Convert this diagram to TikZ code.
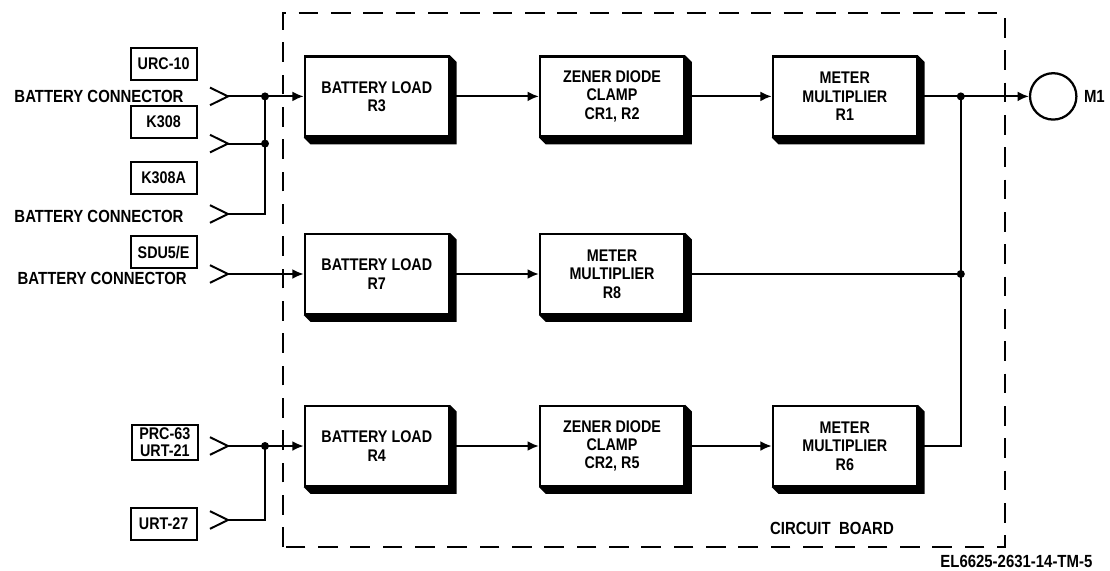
\documentclass[tikz,border=0pt]{standalone}
\usepackage{fontspec}
\setmainfont{Liberation Sans}[FakeStretch=0.85]
\usetikzlibrary{arrows.meta,positioning,calc}

\begin{document}
\begin{tikzpicture}[
  line width=1.4pt,
  font=\bfseries\fontsize{12}{13}\selectfont,
  block/.style={draw,line width=1.6pt,fill=white,minimum width=3.6cm,minimum height=2cm,align=center},
  tag/.style={draw,line width=1.5pt,minimum width=1.65cm,minimum height=0.8cm,align=center,inner sep=2pt,font=\bfseries\fontsize{12}{12}\selectfont},
  lbl/.style={font=\bfseries\fontsize{12.5}{12.5}\selectfont},
  feed/.style={-{Latex[length=8pt,width=7pt]}},
  board/.style={line width=1.6pt,dash pattern=on 14pt off 9pt}
]
\useasboundingbox (0,0) rectangle (27.75,14.25);

% circuit board outline
\draw[board] (7.075,0.575) rectangle (25.125,13.925);
\node[lbl] (cb) at (20.8,1.05) {CIRCUIT\ \ BOARD};
\node[lbl,anchor=east] (fig) at (27.45,0.22) {EL6625-2631-14-TM-5};

% blocks
\node[block] (bl3) at (9.42,11.84) {BATTERY LOAD\\R3};
\node[block] (zd1) at (15.3,11.84) {ZENER DIODE\\CLAMP\\CR1, R2};
\node[block] (mm1) at (21.12,11.84) {METER\\MULTIPLIER\\R1};
\node[block] (bl7) at (9.42,7.4) {BATTERY LOAD\\R7};
\node[block] (mm8) at (15.3,7.4) {METER\\MULTIPLIER\\R8};
\node[block] (bl4) at (9.42,3.1) {BATTERY LOAD\\R4};
\node[block] (zd2) at (15.3,3.1) {ZENER DIODE\\CLAMP\\CR2, R5};
\node[block] (mm6) at (21.12,3.1) {METER\\MULTIPLIER\\R6};
\foreach \b in {bl3,zd1,mm1,bl7,mm8,bl4,zd2,mm6}
  \fill (\b.north east) -- ++(0.17,-0.17) -- ($(\b.south east)+(0.17,-0.17)$) -- ($(\b.south west)+(0.17,-0.17)$) -- (\b.south west) -- (\b.south east) -- cycle;

% meter
\node[draw,circle,line width=1.6pt,minimum size=1.16cm] (m1) at (26.33,11.84) {};
\node[lbl,right=0.02cm of m1] (m1lbl) {M1};

% equipment tags
\node[tag] (urc) at (4.09,12.66) {URC-10};
\node[tag] (k308) at (4.09,11.21) {K308};
\node[tag] (k308a) at (4.09,9.81) {K308A};
\node[tag] (sdu) at (4.09,7.94) {SDU5/E};
\node[tag] (prc) at (4.12,3.19) {PRC-63\\URT-21};
\node[tag] (urt27) at (4.09,1.15) {URT-27};
\node[lbl,anchor=west] (bc1) at (0.22,11.85) {BATTERY CONNECTOR};
\node[lbl,anchor=west] (bc3) at (0.22,8.83) {BATTERY CONNECTOR};
\node[lbl,anchor=west] (bc4) at (0.3,7.3) {BATTERY CONNECTOR};

% input connectors
\foreach \c/\y in {c1/11.84,c2/10.66,c3/8.9,c4/7.4,c5/3.1,c6/1.25}
  \coordinate (\c) at (5.7,\y);
\foreach \c in {c1,c2,c3,c4,c5,c6}
  \draw ($(\c)+(-0.45,0.22)$) -- (\c) -- ++(-0.45,-0.22);

\coordinate (jl1) at (6.625,11.84);
\coordinate (jl2) at (6.625,10.66);
\coordinate (jl5) at (6.625,3.1);
\coordinate (jr1) at (24.02,11.84);
\coordinate (jr2) at (24.02,7.4);
\coordinate (jr3) at (24.02,3.1);

\draw (c1) -- (jl1);
\draw (c2) -- (jl2);
\draw (c3) -| (jl1);
\draw[feed] (jl1) -- (bl3);
\draw[feed] (c4) -- (bl7);
\draw (c5) -- (jl5);
\draw (c6) -| (jl5);
\draw[feed] (jl5) -- (bl4);

\draw[feed] (bl3) -- (zd1);
\draw[feed] (zd1) -- (mm1);
\draw[feed] (mm1) -- (m1);
\draw[feed] (bl7) -- (mm8);
\draw (mm8) -- (jr2);
\draw[feed] (bl4) -- (zd2);
\draw[feed] (zd2) -- (mm6);
\draw (mm6) -- (jr3) -- (jr1);

\foreach \j in {jl1,jl2,jl5,jr1,jr2}
  \fill (\j) circle (0.1);
\end{tikzpicture}
\end{document}
